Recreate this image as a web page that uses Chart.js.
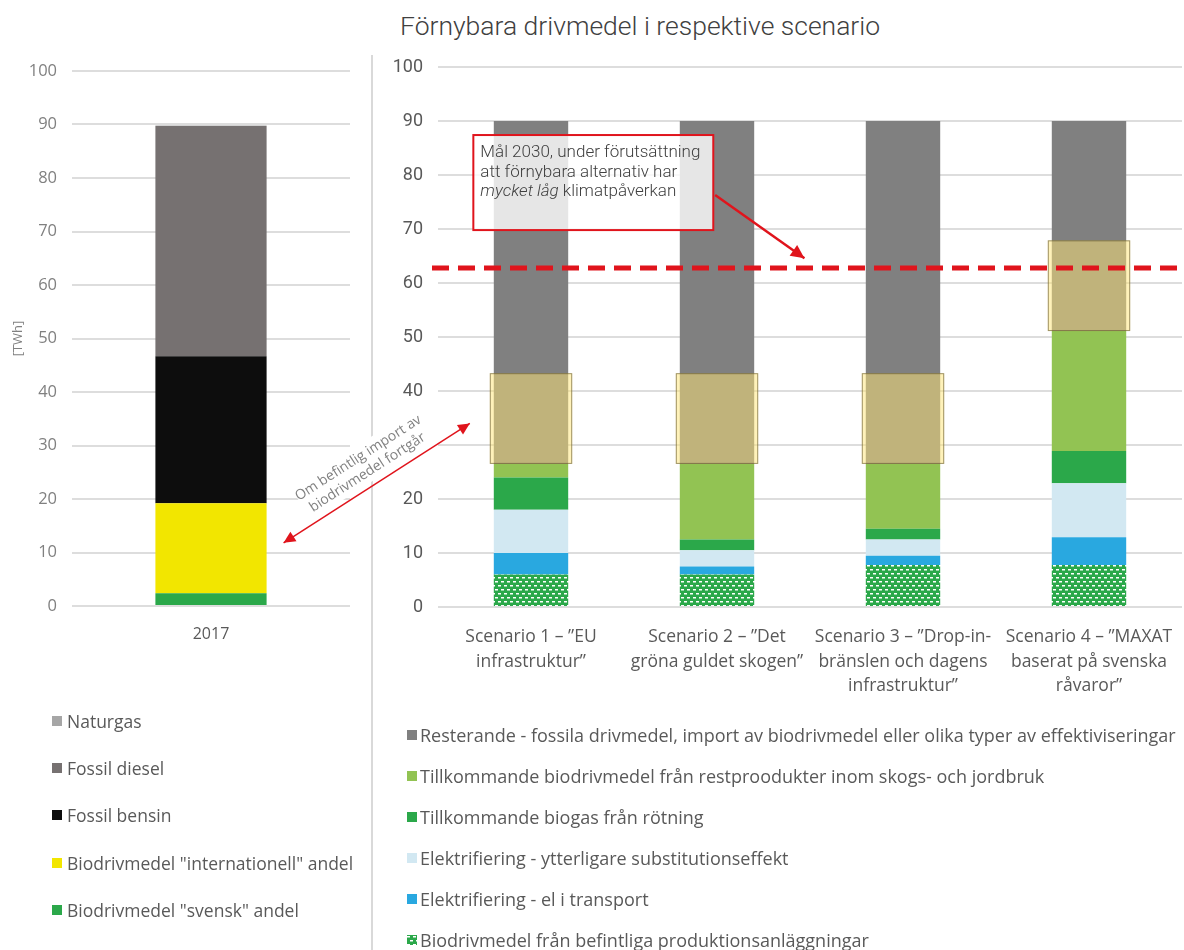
<!doctype html>
<html lang="sv">
<head>
<meta charset="utf-8">
<title>Förnybara drivmedel i respektive scenario</title>
<script src="https://cdn.jsdelivr.net/npm/chart.js"></script>
<style>
  body { margin: 0; background: #fff; width: 1184px; height: 950px; position: relative; overflow: hidden; font-family: "Open Sans", sans-serif; }
  #leftWrap { position: absolute; left: 0; top: 0; width: 372px; height: 660px; }
  #rightWrap { position: absolute; left: 372px; top: 0; width: 812px; height: 710px; }
  #overlay { position: absolute; left: 0; top: 0; pointer-events: none; }
  .divider { position: absolute; left: 371px; top: 55px; width: 2px; height: 895px; background: #d9d9d9; }
  .title { position: absolute; top: 10px; left: 400px; font: 300 26.5px Roboto; color: #404040; white-space: nowrap; }
  .legend { position: absolute; color: #595959; white-space: nowrap; }
  .legend .item { display: flex; align-items: center; }
  #legendLeft { left: 52px; top: 709px; font-size: 17.5px; line-height: 24px; }
  #legendLeft canvas { margin-right: 5px; }
  #legendLeft .item { margin-bottom: 23.2px; }
  #legendRight { left: 407px; top: 723px; font-size: 18px; line-height: 24px; }
  #legendRight canvas { margin-right: 3px; }
  #legendRight .item { margin-bottom: 17px; }
</style>
</head>
<body>
<div class="divider"></div>
<div class="title">Förnybara drivmedel i respektive scenario</div>
<div id="leftWrap"><canvas id="leftChart" width="372" height="660"></canvas></div>
<div id="rightWrap"><canvas id="rightChart" width="812" height="710"></canvas></div>
<div id="legendLeft" class="legend"></div>
<div id="legendRight" class="legend"></div>
<canvas id="overlay" width="1184" height="950"></canvas>

<script>
// ---- data: 2017 ----
const yearLabels = ['2017'];
const biodrivSvensk = [2.4];
const biodrivInternationell = [16.8];
const fossilBensin = [27.5];
const fossilDiesel = [43];
const naturgas = [0.1];

// ---- data: scenarier (TWh) ----
const scenarioLabels = [
    ['Scenario 1 – ”EU', 'infrastruktur”'],
    ['Scenario 2 – ”Det', 'gröna guldet skogen”'],
    ['Scenario 3 – ”Drop-in-', 'bränslen och dagens', 'infrastruktur”'],
    ['Scenario 4 – ”MAXAT', 'baserat på svenska', 'råvaror”']
];
const befintligaAnl = [6, 6, 7.8, 7.8];
const elTransport = [4, 1.5, 1.7, 5.1];
const elSubstitution = [8, 3, 3, 10];
const biogasRotning = [6, 2, 2, 6];
const restprodukter = [2.5, 14, 12, 22.2];
const resterande = [63.5, 63.5, 63.5, 38.9];

// import av biodrivmedel (markerade rutor) – från/till
const importFrom = [26.5, 26.5, 26.5, 51.1];
const importTo = [43.3, 43.3, 43.3, 67.9];
const mal2030 = 62.8;

const yTicks = { min: 0, max: 100, step: 10 };

// pattern for "befintliga produktionsanläggningar"
function makeDots() {
    const c = document.createElement('canvas');
    c.width = 6; c.height = 8;
    const g = c.getContext('2d');
    g.fillStyle = '#2ba84a';
    g.fillRect(0, 0, 6, 8);
    g.fillStyle = '#ffffff';
    g.fillRect(0, 1, 3, 1.5);
    g.fillRect(3, 5, 3, 1.5);
    return g.createPattern(c, 'repeat');
}
const dots = makeDots();

const leftData = {
    labels: yearLabels,
    datasets: [
        { label: 'Biodrivmedel "svensk" andel', data: biodrivSvensk, backgroundColor: '#2ba84a' },
        { label: 'Biodrivmedel "internationell" andel', data: biodrivInternationell, backgroundColor: '#f2e600' },
        { label: 'Fossil bensin', data: fossilBensin, backgroundColor: '#0d0d0d' },
        { label: 'Fossil diesel', data: fossilDiesel, backgroundColor: '#767171' },
        { label: 'Naturgas', data: naturgas, backgroundColor: '#a6a6a6' }
    ]
};

const rightData = {
    labels: scenarioLabels,
    datasets: [
        { label: 'Biodrivmedel från befintliga produktionsanläggningar', data: befintligaAnl, backgroundColor: dots },
        { label: 'Elektrifiering - el i transport', data: elTransport, backgroundColor: '#29a8e0' },
        { label: 'Elektrifiering - ytterligare substitutionseffekt', data: elSubstitution, backgroundColor: '#d2e8f2' },
        { label: 'Tillkommande biogas från rötning', data: biogasRotning, backgroundColor: '#2ba84a' },
        { label: 'Tillkommande biodrivmedel från restproodukter inom skogs- och jordbruk', data: restprodukter, backgroundColor: '#92c353' },
        { label: 'Resterande - fossila drivmedel, import av biodrivmedel eller olika typer av effektiviseringar', data: resterande, backgroundColor: '#808080' }
    ]
};

const RED = '#e0141c';

function arrowHead(ctx, x0, y0, x1, y1, size) {
    const a = Math.atan2(y1 - y0, x1 - x0);
    ctx.beginPath();
    ctx.moveTo(x1, y1);
    ctx.lineTo(x1 - size * Math.cos(a - 0.45), y1 - size * Math.sin(a - 0.45));
    ctx.lineTo(x1 - size * Math.cos(a + 0.45), y1 - size * Math.sin(a + 0.45));
    ctx.closePath();
    ctx.fill();
}

// boxes, target line and note on the scenario chart
const scenarioOverlay = {
    id: 'scenarioOverlay',
    afterDatasetsDraw(chart) {
        const { ctx, chartArea, scales: { x, y } } = chart;
        const meta = chart.getDatasetMeta(0);
        ctx.save();
        importFrom.forEach((v, i) => {
            const bar = meta.data[i];
            const half = bar.width / 2 + 4;
            const top = y.getPixelForValue(importTo[i]);
            const bottom = y.getPixelForValue(v);
            ctx.fillStyle = 'rgba(255,229,117,0.5)';
            ctx.fillRect(bar.x - half, top, half * 2, bottom - top);
            ctx.strokeStyle = 'rgba(80,70,30,0.55)';
            ctx.lineWidth = 1;
            ctx.strokeRect(bar.x - half + 0.5, top + 0.5, half * 2 - 1, bottom - top - 1);
        });

        // mål 2030
        const ty = y.getPixelForValue(mal2030);
        ctx.strokeStyle = RED;
        ctx.lineWidth = 5;
        ctx.setLineDash([17, 9]);
        ctx.beginPath();
        ctx.moveTo(chartArea.left - 6, ty);
        ctx.lineTo(chart.width, ty);
        ctx.stroke();
        ctx.setLineDash([]);

        // note box
        const bx0 = x.getPixelForValue(-0.31), bx1 = x.getPixelForValue(0.98);
        const by0 = y.getPixelForValue(87.4), by1 = y.getPixelForValue(69.8);
        ctx.fillStyle = 'rgba(255,255,255,0.8)';
        ctx.fillRect(bx0, by0, bx1 - bx0, by1 - by0);
        ctx.strokeStyle = RED;
        ctx.lineWidth = 2;
        ctx.strokeRect(bx0, by0, bx1 - bx0, by1 - by0);
        ctx.fillStyle = '#404040';
        ctx.textBaseline = 'middle';
        ctx.font = '300 17px Roboto';
        ctx.fillText('Mål 2030, under förutsättning', bx0 + 7, by0 + 18);
        ctx.fillText('att förnybara alternativ har', bx0 + 7, by0 + 37.5);
        ctx.font = 'italic 300 17px Roboto';
        const it = 'mycket låg';
        ctx.fillText(it, bx0 + 7, by0 + 57);
        const w = ctx.measureText(it + ' ').width;
        ctx.font = '300 17px Roboto';
        ctx.fillText('klimatpåverkan', bx0 + 7 + w, by0 + 57);

        // arrow from note to target line
        const ax0 = x.getPixelForValue(0.99), ay0 = y.getPixelForValue(76.3);
        const ax1 = x.getPixelForValue(1.47), ay1 = y.getPixelForValue(64.6);
        ctx.strokeStyle = RED;
        ctx.fillStyle = RED;
        ctx.lineWidth = 2.5;
        ctx.beginPath();
        ctx.moveTo(ax0, ay0);
        ctx.lineTo(ax1, ay1);
        ctx.stroke();
        arrowHead(ctx, ax0, ay0, ax1, ay1, 15);
        ctx.restore();
    }
};

const leftChart = new Chart(document.getElementById('leftChart'), {
    type: 'bar',
    data: leftData,
    options: {
        responsive: false,
        animation: false,
        events: [],
        layout: { padding: { top: 71, right: 22, left: 0, bottom: 0 }, autoPadding: false },
        plugins: { legend: { display: false }, tooltip: { enabled: false } },
        datasets: { bar: { categoryPercentage: 1, barPercentage: 0.4 } },
        scales: {
            x: {
                stacked: true,
                grid: { display: false },
                border: { display: false },
                ticks: { color: '#595959', font: { family: 'Open Sans', size: 16 }, padding: 11 },
                afterFit: (s) => { s.height = 54; }
            },
            y: {
                stacked: true,
                min: yTicks.min, max: yTicks.max,
                ticks: { stepSize: yTicks.step, color: '#808080', font: { family: 'Open Sans', size: 16.5 }, padding: 15 },
                grid: { color: '#dddddd', lineWidth: 2, drawTicks: false },
                border: { display: false },
                title: { display: true, text: '[TWh]', color: '#808080', font: { family: 'Open Sans', size: 13 }, padding: { top: 10, bottom: 0 } },
                afterFit: (s) => { s.width = 72; }
            }
        }
    }
});

const rightChart = new Chart(document.getElementById('rightChart'), {
    type: 'bar',
    data: rightData,
    plugins: [scenarioOverlay],
    options: {
        responsive: false,
        animation: false,
        events: [],
        layout: { padding: { top: 67, right: 2, left: 0, bottom: 0 }, autoPadding: false },
        plugins: { legend: { display: false }, tooltip: { enabled: false } },
        datasets: { bar: { categoryPercentage: 1, barPercentage: 0.4 } },
        scales: {
            x: {
                stacked: true,
                grid: { display: false },
                border: { display: false },
                ticks: { color: '#595959', maxRotation: 0, autoSkip: false, font: { family: 'Open Sans', size: 17.5, lineHeight: 1.4 }, padding: 10 },
                afterFit: (s) => { s.height = 103; }
            },
            y: {
                stacked: true,
                min: yTicks.min, max: yTicks.max,
                ticks: { stepSize: yTicks.step, color: '#595959', font: { family: 'Roboto', size: 18 }, padding: 15 },
                grid: { color: '#dddddd', lineWidth: 2, drawTicks: false },
                border: { display: false },
                afterFit: (s) => { s.width = 66; }
            }
        }
    }
});

// legends built from the datasets (top of stack first)
function buildLegend(el, chart) {
    chart.data.datasets.slice().reverse().forEach(ds => {
        const item = document.createElement('div');
        item.className = 'item';
        const sw = document.createElement('canvas');
        sw.width = 10; sw.height = 10;
        const g = sw.getContext('2d');
        g.fillStyle = ds.backgroundColor;
        g.fillRect(0, 0, 10, 10);
        const txt = document.createElement('span');
        txt.textContent = ds.label;
        item.appendChild(sw);
        item.appendChild(txt);
        el.appendChild(item);
    });
}
buildLegend(document.getElementById('legendLeft'), leftChart);
buildLegend(document.getElementById('legendRight'), rightChart);

// cross-chart note: "Om befintlig import av biodrivmedel fortgår"
function drawCrossNote() {
    const ctx = document.getElementById('overlay').getContext('2d');
    const lb = leftChart.getDatasetMeta(1).data[0];
    const rb = rightChart.getDatasetMeta(0).data[0];
    const x0 = lb.x + lb.width / 2 + 17;
    const y0 = leftChart.scales.y.getPixelForValue(11.8);
    const x1 = 372 + rb.x - rb.width / 2 - 24;
    const y1 = rightChart.scales.y.getPixelForValue(34);
    const a = Math.atan2(y1 - y0, x1 - x0);
    const mx = (x0 + x1) / 2, my = (y0 + y1) / 2;

    ctx.save();
    ctx.translate(mx, my);
    ctx.rotate(a);
    ctx.fillStyle = '#ffffff';
    ctx.fillRect(-75, -42, 150, 38);
    ctx.fillStyle = '#808080';
    ctx.font = '14px "Open Sans"';
    ctx.textAlign = 'center';
    ctx.textBaseline = 'middle';
    ctx.fillText('Om befintlig import av', -2, -31);
    ctx.fillText('biodrivmedel fortgår', -2, -14);
    ctx.restore();

    ctx.save();
    ctx.strokeStyle = RED;
    ctx.fillStyle = RED;
    ctx.lineWidth = 1.5;
    ctx.beginPath();
    ctx.moveTo(x0, y0);
    ctx.lineTo(x1, y1);
    ctx.stroke();
    arrowHead(ctx, x0, y0, x1, y1, 13);
    arrowHead(ctx, x1, y1, x0, y0, 13);
    ctx.restore();
}
drawCrossNote();
</script>
</body>
</html>
